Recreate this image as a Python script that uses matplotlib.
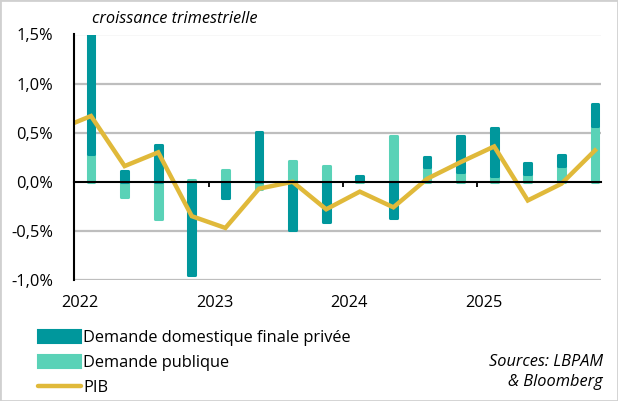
import numpy as np
import matplotlib
matplotlib.use("Agg")
import matplotlib.pyplot as plt
from matplotlib.patches import Patch, Rectangle
from matplotlib.lines import Line2D
import matplotlib.transforms as mtransforms

plt.rcParams["font.family"] = ["Open Sans", "DejaVu Sans"]

# quarterly contributions to growth, 2022 Q1 .. 2025 Q4 (in %)
quarters = ["2022T1", "2022T2", "2022T3", "2022T4",
            "2023T1", "2023T2", "2023T3", "2023T4",
            "2024T1", "2024T2", "2024T3", "2024T4",
            "2025T1", "2025T2", "2025T3", "2025T4"]
private_demand = [1.30, 0.11, 0.37, -0.95, -0.17, 0.51, -0.49, -0.41,
                  0.05, -0.37, 0.10, 0.37, 0.49, 0.11, 0.11, 0.22]
public_demand = [0.28, -0.15, -0.38, 0.02, 0.12, -0.07, 0.21, 0.16,
                 0.01, 0.47, 0.15, 0.10, 0.06, 0.08, 0.16, 0.57]
# GDP line, first value is 2021 Q4 (clipped at the left edge)
gdp_quarters = ["2021T4"] + quarters
gdp = [0.53, 0.67, 0.16, 0.30, -0.35, -0.47, -0.07, 0.00, -0.28,
       -0.10, -0.26, 0.03, 0.20, 0.36, -0.19, -0.02, 0.32]
years = ["2022", "2023", "2024", "2025"]
y_ticks = [-1.0, -0.5, 0.0, 0.5, 1.0, 1.5]

DARK = "#00979c"
LIGHT = "#5ad2b7"
GOLD = "#e0b93a"
GRID = "#bebebe"
FS = 11.8

fig = plt.figure(figsize=(6.18, 4.01), dpi=100)
ax = fig.add_axes([74.2 / 618, 121 / 401, 526.5 / 618, 245.5 / 401])

x = np.arange(len(quarters))
x_gdp = np.arange(len(gdp_quarters)) - 1

pub = np.array(public_demand)
priv = np.array(private_demand)
pos_base = np.zeros(len(x))
neg_base = np.zeros(len(x))

# gridlines drawn by hand under the bars
ax.hlines([v for v in y_ticks if v != 0], -0.5, 15.17, colors=GRID,
          linewidth=1.6, zorder=1)

# public demand stacked first, private demand on top of it
for vals, color in [(pub, LIGHT), (priv, DARK)]:
    bottom = np.where(vals >= 0, pos_base, neg_base)
    ax.bar(x, vals, bottom=bottom, width=0.2, color=color, edgecolor=color,
           linewidth=2.2, joinstyle="round", zorder=3)
    pos_base = pos_base + np.where(vals >= 0, vals, 0)
    neg_base = neg_base + np.where(vals < 0, vals, 0)

ax.plot(x_gdp, gdp, color=GOLD, linewidth=3.2, solid_joinstyle="miter",
        zorder=4)

ax.set_xlim(-0.5, 15.17)
ax.set_ylim(-1.0, 1.5)

ax.set_yticks(y_ticks)
ax.set_yticklabels([f"{v:.1f}%".replace(".", ",") for v in y_ticks],
                   fontsize=FS)
ax.tick_params(axis="y", length=0, pad=15)

# category axis sits on zero, year boundaries as ticks
ax.spines["bottom"].set_position(("data", 0))
ax.spines["bottom"].set_linewidth(1.5)
ax.spines["bottom"].set_zorder(5)
ax.spines["left"].set_linewidth(1.5)
ax.spines["left"].set_zorder(5)
ax.spines["top"].set_visible(False)
ax.spines["right"].set_visible(False)
boundaries = [4 * k - 0.5 for k in range(len(years))]
ax.set_xticks(boundaries)
ax.set_xticklabels([])
ax.tick_params(axis="x", direction="out", length=3.3, width=1.3, color="black")

trans = mtransforms.blended_transform_factory(ax.transData, ax.transAxes)
for b, label in zip(boundaries, years):
    ax.text(b + 0.18, -0.092, label, transform=trans, ha="center",
            va="center", fontsize=FS)

fig.text(92 / 618, 1 - 19 / 401, "croissance trimestrielle", fontsize=FS,
         style="italic", ha="left", va="center")

handles = [
    Patch(facecolor=DARK, edgecolor=DARK, linewidth=1.5, joinstyle="round"),
    Patch(facecolor=LIGHT, edgecolor=LIGHT, linewidth=1.5, joinstyle="round"),
    Line2D([0], [0], color=GOLD, linewidth=3.2, solid_capstyle="round"),
]
labels = ["Demande domestique finale privée", "Demande publique", "PIB"]
fig.legend(handles, labels, loc="upper left",
           bbox_to_anchor=(38 / 618, 1 - 330 / 401), frameon=False,
           fontsize=FS, handlelength=2.6, handleheight=0.8,
           handletextpad=0.15, labelspacing=0.55, borderpad=0,
           borderaxespad=0)

fig.text(603 / 618, 1 - 372 / 401, "Sources: LBPAM\n& Bloomberg",
         fontsize=FS, style="italic", ha="right", va="center",
         multialignment="right", linespacing=1.3)

fig.patches.append(Rectangle((0, 0), 1, 1, transform=fig.transFigure,
                             fill=False, edgecolor="#d0d0d0", linewidth=2))

fig.savefig("out.png", dpi=100)
